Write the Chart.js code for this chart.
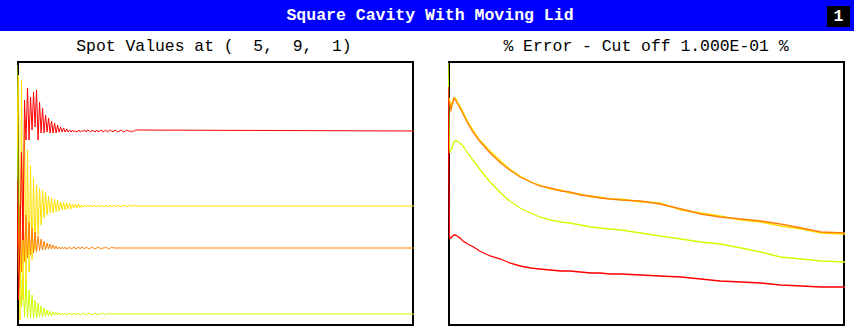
<!DOCTYPE html>
<html><head><meta charset="utf-8">
<script src="https://cdn.jsdelivr.net/npm/chart.js@4"></script>
<style>
body{margin:0;background:#fff;width:854px;height:331px;position:relative;overflow:hidden;font-family:"Liberation Mono","DejaVu Sans Mono",monospace}
#banner{position:absolute;left:0;top:0;width:854px;height:31px;background:#0000ff}
#bannerTitle{position:absolute;left:3px;width:854px;top:0;line-height:31px;text-align:center;color:#fff;font-weight:bold;font-size:16.5px;white-space:pre}
#pageNo{position:absolute;left:827px;top:6px;width:23px;height:21px;background:#000;color:#fff;font-weight:bold;font-size:16.5px;line-height:21px;text-align:center}
.sub{position:absolute;top:37px;line-height:20px;font-size:16.4px;text-align:center;white-space:pre;color:#000}
.panel{position:absolute;top:61px;width:397px;height:265px}
</style>
</head><body>
<div id="banner"><div id="bannerTitle"></div><div id="pageNo"></div></div>
<div class="sub" id="subL" style="left:14px;width:400px"></div>
<div class="sub" id="subR" style="left:446px;width:400px"></div>
<div class="panel" style="left:17px"><canvas id="spot"></canvas></div>
<div class="panel" style="left:448px"><canvas id="err"></canvas></div>
<script>
// ---- text ----
const mainTitle = "Square Cavity With Moving Lid";
const pageNumber = "1";
const spotTitle = "Spot Values at (  5,  9,  1)";
const errTitle = "% Error - Cut off 1.000E-01 %";

// ---- left panel: spot values, one value per iteration ----
const spotLastIter = 264;
const spotRed = [146,26,86,174,86,226,186,238,186,229,196,234,199,236,186,224,193,218,193,211,194,208,193,205,193,203,193,201,194,199,194,198,194,197,194,196,194,196,194,195,194,196,194,195,195,196,194,196,195,194,196,195,194,196,194,195,196,194,195,196,194,195,196,195,194,196,195,194,195,196,195,194,195,196,195,195,194,195,195,196];
const spotRedFinal = 195;
const spotYellow = [176,251,6,246,26,206,41,176,54,161,66,148,76,141,91,138,101,136,108,134,111,130,113,128,113,127,114,126,115,124,116,124,116,123,117,123,117,122,118,122,118,122,118,121,119,121,119,121,119,121,119,121,120,119,121,119,121,120,119,121,119,120,121,119,121,120,119,121,120,119,121,120,121,119,120,121,119,120,121,120];
const spotYellowFinal = 120;
const spotOrange = [116,76,121,54,116,64,111,68,104,71,98,73,94,74,90,75,87,76,85,76,83,77,82,77,81,77,80,77,79,77,79,77,79,77,78,79,77,78,79,77,78,79,77,79,78,77,79,78,77,78,79,78,77,78,79,78,77,78,78,79,78,77,78,79,78];
const spotOrangeFinal = 78;
const spotGreen = [261,49,96,19,49,9,46,8,36,8,31,8,26,8,23,9,20,9,18,10,16,10,15,10,14,11,14,11,13,11,13,11,13,11,12,13,11,12,13,11,12,13,11,12,13,12,11,12,13,12,11,12,13,12,11,12,12,13,12,11,12,13,12];
const spotGreenFinal = 12;

// ---- right panel: % error ----
const errIter = [0,1,2,3,4,5,6,8,10,13,17,21,28,35,41,48,55,61,68,75,81,88,95,101,108,115,128,141,155,168,181,195,208,221,235,248,264];
const errRed    = [239,88,88,90,91,91,90,88,85,82,79,75,70,67,63,60,58,57,56,55,55,54,53,53,52,52,51,50,49,47,45,44,43,41,40,39,39];
const errYellow = [218,226,220,225,227,228,225,220,214,205,195,186,175,165,157,150,144,141,137,136,133,132,129,129,127,127,124,123,116,113,110,106,104,100,97,93,92];
const errOrange = [221,224,216,222,228,226,223,218,212,203,193,185,173,163,156,149,144,140,138,135,134,131,130,128,127,126,125,122,117,112,109,107,105,102,98,94,93];
const errGreen  = [263,174,176,180,184,185,185,183,180,173,165,157,144,133,125,118,113,109,106,104,103,101,99,98,97,96,93,90,87,84,82,78,74,69,67,65,64];

const colRed = "#ff0000", colYellow = "#ffe000", colOrange = "#ff8000", colGreen = "#ccff00";

document.getElementById('bannerTitle').textContent = mainTitle;
document.getElementById('pageNo').textContent = pageNumber;
document.getElementById('subL').textContent = spotTitle;
document.getElementById('subR').textContent = errTitle;

function seq(vals, fin){
  const d = vals.map((v,i)=>({x:i,y:v}));
  d.push({x:spotLastIter,y:fin});
  return d;
}
function pairs(xs, ys){ return xs.map((x,i)=>({x:x,y:ys[i]})); }

const frame = {id:'frame', beforeDatasetsDraw(chart){
  const {ctx, chartArea:a} = chart;
  ctx.save(); ctx.strokeStyle = '#000'; ctx.lineWidth = 2;
  ctx.strokeRect(a.left+1, a.top+1, a.right-a.left-2, a.bottom-a.top-2);
  ctx.restore();
}};

function opts(){
  return {
    responsive:true, maintainAspectRatio:false, animation:false,
    layout:{padding:0},
    plugins:{legend:{display:false}, tooltip:{enabled:false}, title:{display:false}},
    elements:{point:{radius:0}, line:{tension:0}},
    scales:{
      x:{type:'linear', min:0, max:spotLastIter, display:false},
      y:{type:'linear', min:0, max:265, display:false}
    }
  };
}

new Chart(document.getElementById('spot'), {
  type:'line',
  data:{datasets:[
    {data:seq(spotRed, spotRedFinal), borderColor:colRed, borderWidth:1},
    {data:seq(spotOrange, spotOrangeFinal), borderColor:colOrange, borderWidth:1},
    {data:seq(spotYellow, spotYellowFinal), borderColor:colYellow, borderWidth:1},
    {data:seq(spotGreen, spotGreenFinal), borderColor:colGreen, borderWidth:1}
  ]},
  options:opts(), plugins:[frame]
});

new Chart(document.getElementById('err'), {
  type:'line',
  data:{datasets:[
    {data:pairs(errIter, errRed), borderColor:colRed, borderWidth:1.3},
    {data:pairs(errIter, errOrange), borderColor:colOrange, borderWidth:1.3},
    {data:pairs(errIter, errYellow), borderColor:colYellow, borderWidth:1.3},
    {data:pairs(errIter, errGreen), borderColor:colGreen, borderWidth:1.3}
  ]},
  options:opts(), plugins:[frame]
});
</script>
</body></html>
